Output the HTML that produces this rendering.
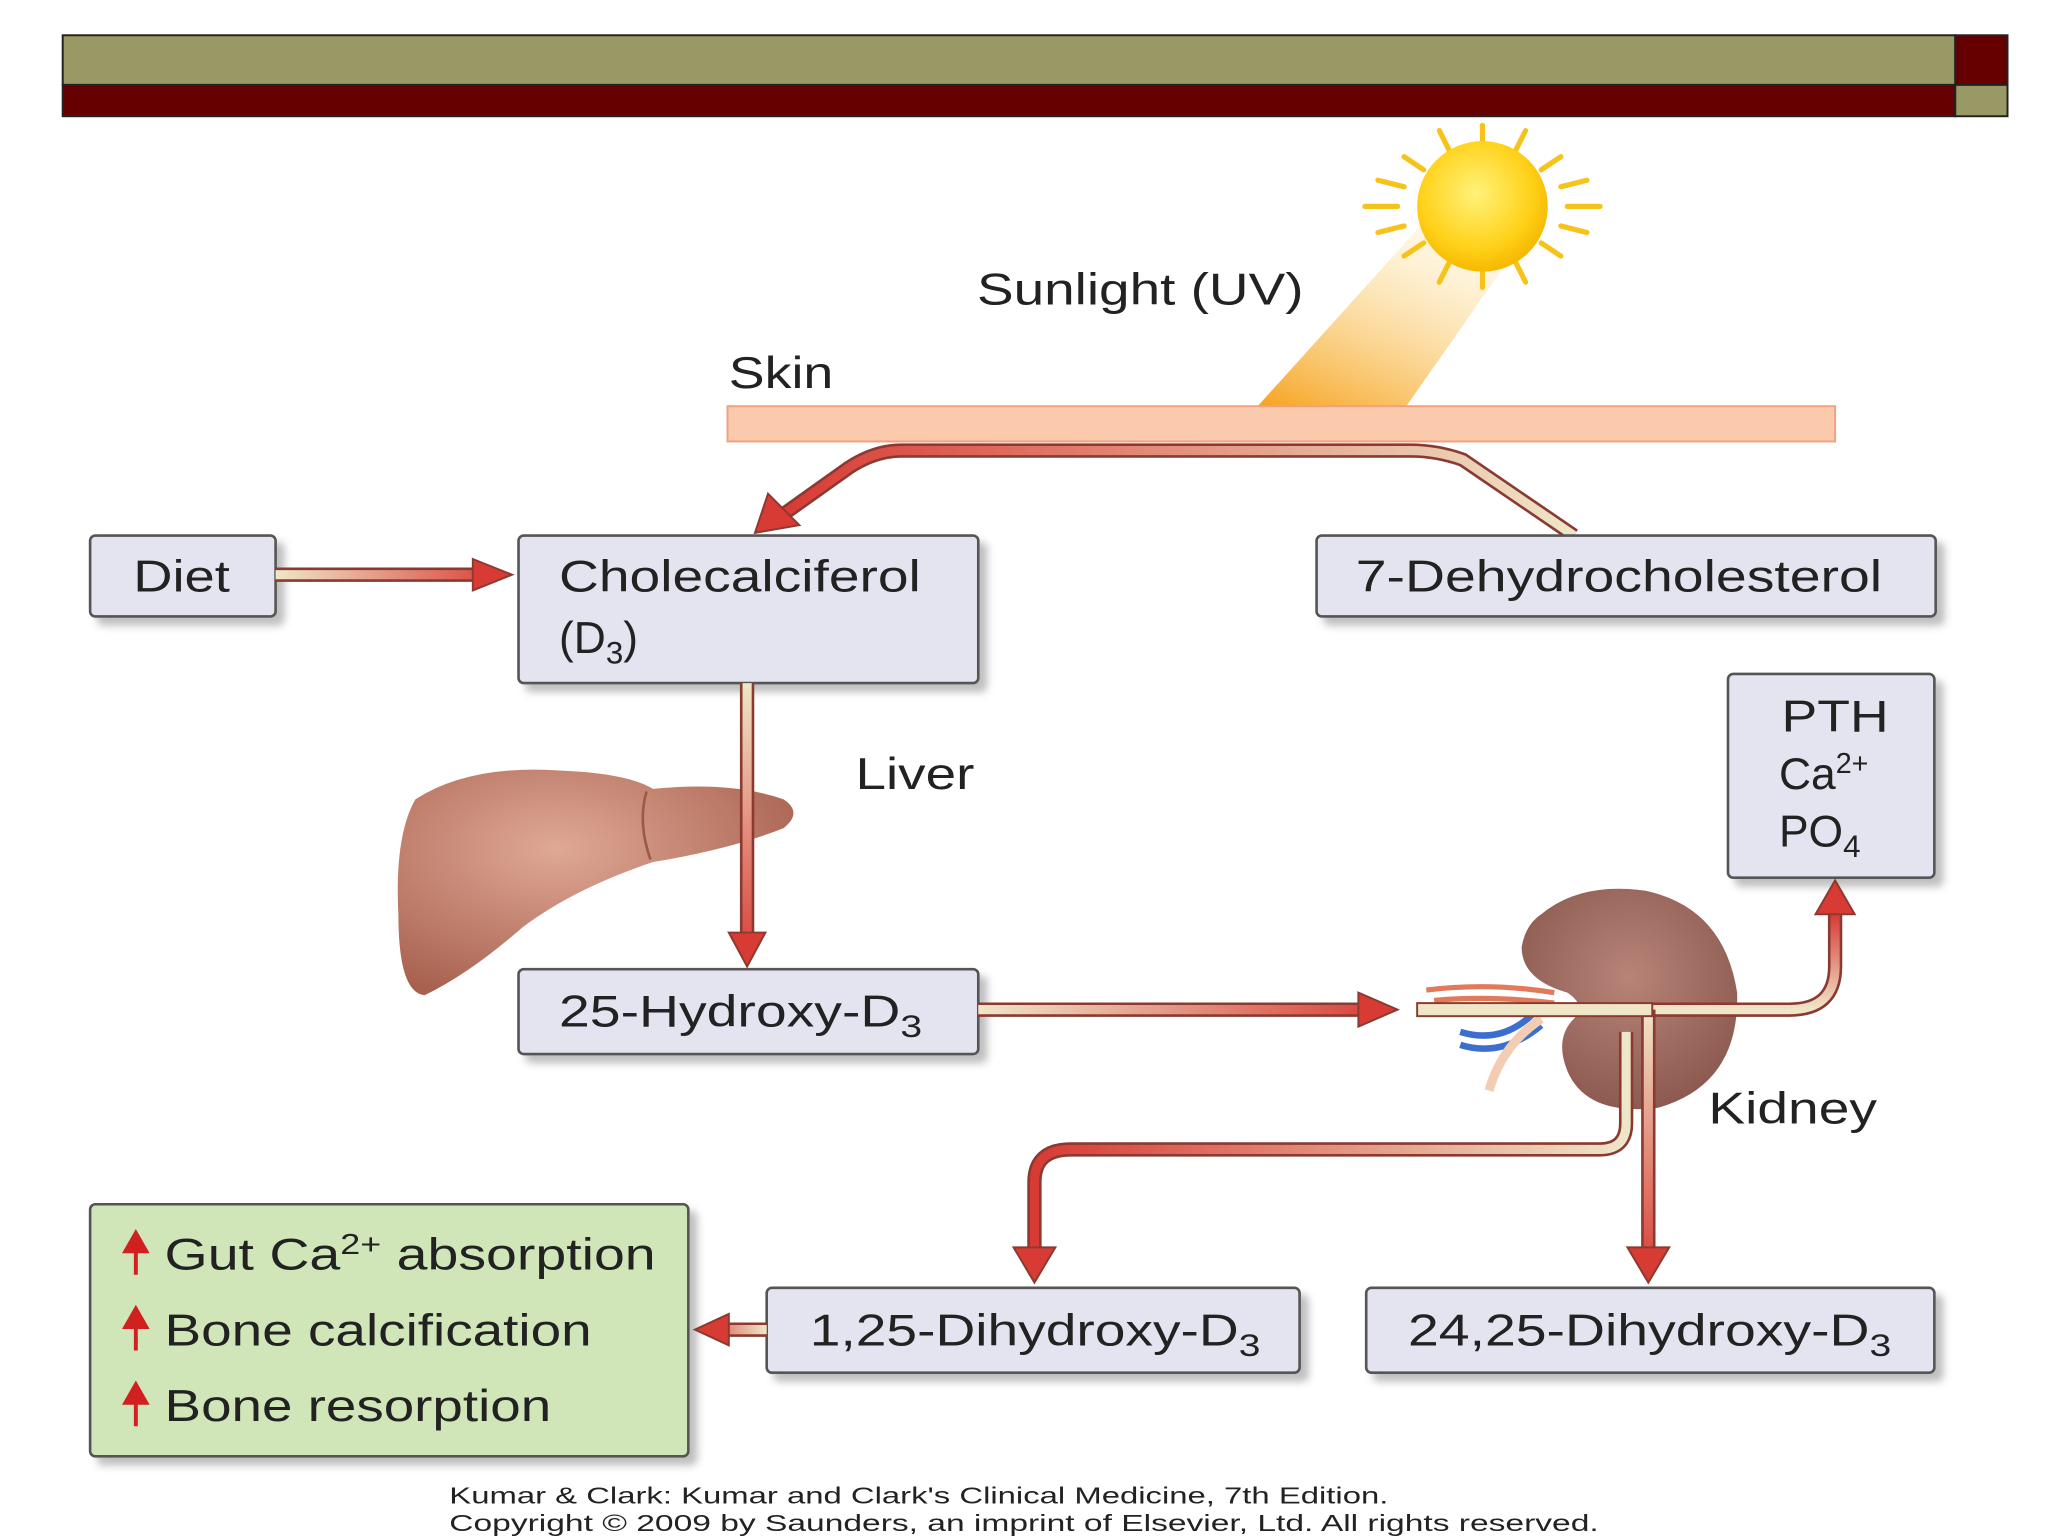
<!DOCTYPE html>
<html><head><meta charset="utf-8"><style>
html,body{margin:0;padding:0;background:#fff;}
svg{display:block;}
text{font-family:"Liberation Sans",sans-serif;fill:#222;}
</style></head><body>
<svg width="2048" height="1536" viewBox="0 0 1568 1176" xmlns="http://www.w3.org/2000/svg">
<defs>
<radialGradient id="sun" cx="0.45" cy="0.4" r="0.6"><stop offset="0" stop-color="#fff27a"/><stop offset="0.7" stop-color="#ffd21a"/><stop offset="1" stop-color="#f7b800"/></radialGradient>
<linearGradient id="beam" x1="0" y1="1" x2="0.6" y2="0"><stop offset="0" stop-color="#f6a21e"/><stop offset="1" stop-color="#fde9b0" stop-opacity="0.3"/></linearGradient>
<linearGradient id="ghr" x1="1" y1="0" x2="0" y2="0"><stop offset="0" stop-color="#efe6c8"/><stop offset="1" stop-color="#d83a34"/></linearGradient>
<linearGradient id="gv" x1="0" y1="0" x2="0" y2="1"><stop offset="0" stop-color="#efe6c8"/><stop offset="1" stop-color="#d83a34"/></linearGradient>
<linearGradient id="gvu" x1="0" y1="1" x2="0" y2="0"><stop offset="0" stop-color="#efe6c8"/><stop offset="1" stop-color="#d83a34"/></linearGradient>
<linearGradient id="gDiet" gradientUnits="userSpaceOnUse" x1="211" y1="0" x2="390" y2="0"><stop offset="0" stop-color="#efe6c8"/><stop offset="1" stop-color="#d83a34"/></linearGradient>
<linearGradient id="gChole" gradientUnits="userSpaceOnUse" x1="0" y1="523" x2="0" y2="740"><stop offset="0" stop-color="#efe6c8"/><stop offset="1" stop-color="#d83a34"/></linearGradient>
<linearGradient id="g25" gradientUnits="userSpaceOnUse" x1="749" y1="0" x2="1070" y2="0"><stop offset="0" stop-color="#efe6c8"/><stop offset="1" stop-color="#d83a34"/></linearGradient>
<linearGradient id="g125" gradientUnits="userSpaceOnUse" x1="587" y1="0" x2="532" y2="0"><stop offset="0" stop-color="#efe6c8"/><stop offset="1" stop-color="#d83a34"/></linearGradient>
<linearGradient id="g2425" gradientUnits="userSpaceOnUse" x1="0" y1="773" x2="0" y2="980"><stop offset="0" stop-color="#efe6c8"/><stop offset="1" stop-color="#d83a34"/></linearGradient>
<radialGradient id="liv" cx="0.4" cy="0.35" r="0.7"><stop offset="0" stop-color="#e0a896"/><stop offset="1" stop-color="#a8614f"/></radialGradient>
<radialGradient id="kid" cx="0.5" cy="0.4" r="0.6"><stop offset="0" stop-color="#b88479"/><stop offset="1" stop-color="#8c5a50"/></radialGradient>
<filter id="sh" x="-10%" y="-10%" width="130%" height="140%"><feDropShadow dx="6" dy="6" stdDeviation="3" flood-color="#000" flood-opacity="0.25"/></filter>
</defs>

<rect x="48" y="27" width="1449" height="38" fill="#999966" stroke="#222" stroke-width="1.5"/>
<rect x="48" y="65" width="1449" height="24" fill="#660000" stroke="#222" stroke-width="1.5"/>
<rect x="1497" y="27" width="40" height="38" fill="#660000" stroke="#222" stroke-width="1.5"/>
<rect x="1497" y="65" width="40" height="24" fill="#999966" stroke="#222" stroke-width="1.5"/>

<polygon points="962,312 1076,312 1160,192 1092,168" fill="url(#beam)"/>
<g stroke="#f7c21a" stroke-width="4" stroke-linecap="round">
<line x1="1135" y1="96" x2="1135" y2="112"/><line x1="1135" y1="204" x2="1135" y2="220"/>
<line x1="1045" y1="158" x2="1070" y2="158"/><line x1="1200" y1="158" x2="1225" y2="158"/>
<line x1="1102" y1="100" x2="1110" y2="116"/><line x1="1168" y1="100" x2="1160" y2="116"/>
<line x1="1102" y1="216" x2="1110" y2="200"/><line x1="1168" y1="216" x2="1160" y2="200"/>
<line x1="1075" y1="120" x2="1090" y2="130"/><line x1="1195" y1="120" x2="1180" y2="130"/>
<line x1="1075" y1="196" x2="1090" y2="186"/><line x1="1195" y1="196" x2="1180" y2="186"/>
<line x1="1055" y1="138" x2="1075" y2="143"/><line x1="1215" y1="138" x2="1195" y2="143"/>
<line x1="1055" y1="178" x2="1075" y2="173"/><line x1="1215" y1="178" x2="1195" y2="173"/>
</g>
<circle cx="1135" cy="158" r="50" fill="url(#sun)"/>

<text x="748" y="233" font-size="34" textLength="250" lengthAdjust="spacingAndGlyphs">Sunlight (UV)</text>
<text x="558" y="297" font-size="34" textLength="80" lengthAdjust="spacingAndGlyphs">Skin</text>
<rect x="557" y="311" width="848" height="27" fill="#fbc9ab" stroke="#f3a07e" stroke-width="1.5"/>

<path d="M1205,410 L1120,352 Q1100,345 1080,345 L690,345 Q670,345 650,358 L598,395" fill="none" stroke="#8a3a30" stroke-width="11"/>
<path d="M1205,410 L1120,352 Q1100,345 1080,345 L690,345 Q670,345 650,358 L598,395" fill="none" stroke="url(#ghr)" stroke-width="7"/>
<polygon points="578,408 588,378 612,402" fill="#d83a34" stroke="#8a3a30" stroke-width="1.5"/>

<g filter="url(#sh)" fill="#e4e4f0" stroke="#555" stroke-width="2">
<rect x="69" y="410" width="142" height="62" rx="4"/>
<rect x="397" y="410" width="352" height="113" rx="4"/>
<rect x="1008" y="410" width="474" height="62" rx="4"/>
<rect x="1323" y="516" width="158" height="156" rx="4"/>
<rect x="397" y="742" width="352" height="65" rx="4"/>
<rect x="587" y="986" width="408" height="65" rx="4"/>
<rect x="1046" y="986" width="435" height="65" rx="4"/>
<rect x="69" y="922" width="458" height="193" rx="4" fill="#d0e6b9"/>
</g>

<text x="102" y="453" font-size="34" textLength="74" lengthAdjust="spacingAndGlyphs">Diet</text>
<text x="428" y="453" font-size="34" textLength="277" lengthAdjust="spacingAndGlyphs">Cholecalciferol</text>
<text x="428" y="500" font-size="34">(D<tspan font-size="24" dy="8">3</tspan><tspan dy="-8">)</tspan></text>
<text x="1038" y="453" font-size="34" textLength="403" lengthAdjust="spacingAndGlyphs">7-Dehydrocholesterol</text>
<text x="1364" y="560" font-size="34" textLength="82" lengthAdjust="spacingAndGlyphs">PTH</text>
<text x="1362" y="604" font-size="34">Ca<tspan font-size="22" dy="-12">2+</tspan></text>
<text x="1362" y="648" font-size="34">PO<tspan font-size="24" dy="8">4</tspan></text>
<text x="428" y="786" font-size="34" textLength="278" lengthAdjust="spacingAndGlyphs">25-Hydroxy-D<tspan font-size="24" dy="8">3</tspan></text>
<text x="620" y="1030" font-size="34" textLength="345" lengthAdjust="spacingAndGlyphs">1,25-Dihydroxy-D<tspan font-size="24" dy="8">3</tspan></text>
<text x="1078" y="1030" font-size="34" textLength="370" lengthAdjust="spacingAndGlyphs">24,25-Dihydroxy-D<tspan font-size="24" dy="8">3</tspan></text>
<text x="655" y="604" font-size="34" textLength="91" lengthAdjust="spacingAndGlyphs">Liver</text>
<text x="1308" y="860" font-size="34" textLength="129" lengthAdjust="spacingAndGlyphs">Kidney</text>

<text x="126" y="972" font-size="34" textLength="376" lengthAdjust="spacingAndGlyphs">Gut Ca<tspan font-size="22" dy="-12">2+</tspan><tspan dy="12"> absorption</tspan></text>
<text x="126" y="1030" font-size="34" textLength="327" lengthAdjust="spacingAndGlyphs">Bone calcification</text>
<text x="126" y="1088" font-size="34" textLength="296" lengthAdjust="spacingAndGlyphs">Bone resorption</text>
<g fill="#d02020" stroke="#d02020" stroke-width="3">
<line x1="104" y1="976" x2="104" y2="955"/><polygon points="96,958 104,944 112,958"/>
<line x1="104" y1="1034" x2="104" y2="1013"/><polygon points="96,1016 104,1002 112,1016"/>
<line x1="104" y1="1092" x2="104" y2="1071"/><polygon points="96,1074 104,1060 112,1074"/>
</g>

<path d="M318,612 Q360,585 430,590 Q480,592 500,604 Q560,598 600,612 Q615,622 600,634 Q560,650 500,660 Q440,680 400,710 Q360,745 325,762 Q305,760 305,700 Q302,640 318,612 Z" fill="url(#liv)"/>
<path d="M495,606 Q488,630 498,658" fill="none" stroke="#9a5a48" stroke-width="2"/>

<path d="M1180,700 Q1210,675 1260,682 Q1320,695 1330,760 Q1332,830 1270,848 Q1215,855 1200,820 Q1190,795 1205,780 Q1215,770 1200,760 Q1165,750 1165,725 Q1168,708 1180,700 Z" fill="url(#kid)"/>
<path d="M1118,790 Q1150,800 1175,775 M1118,800 Q1150,810 1180,785" fill="none" stroke="#3a6fcf" stroke-width="5"/>
<path d="M1092,758 Q1140,752 1190,760 M1098,766 Q1140,762 1190,768" fill="none" stroke="#e07a5a" stroke-width="4"/>
<path d="M1180,780 Q1150,800 1140,835" fill="none" stroke="#f3cdb3" stroke-width="7"/>

<line x1="211" y1="440" x2="370" y2="440" stroke="#8a3a30" stroke-width="11"/>
<line x1="211" y1="440" x2="370" y2="440" stroke="url(#gDiet)" stroke-width="7"/>
<polygon points="392,440 362,428 362,452" fill="#d83a34" stroke="#8a3a30" stroke-width="1.5"/>

<line x1="572" y1="523" x2="572" y2="718" stroke="#8a3a30" stroke-width="11"/>
<line x1="572" y1="523" x2="572" y2="718" stroke="url(#gChole)" stroke-width="7"/>
<polygon points="572,740 558,714 586,714" fill="#d83a34" stroke="#8a3a30" stroke-width="1.5"/>

<line x1="749" y1="773" x2="1045" y2="773" stroke="#8a3a30" stroke-width="11"/>
<line x1="749" y1="773" x2="1045" y2="773" stroke="url(#g25)" stroke-width="7"/>
<polygon points="1070,773 1040,760 1040,786" fill="#d83a34" stroke="#8a3a30" stroke-width="1.5"/>

<g fill="none">
<path d="M1085,773 L1370,773 Q1405,773 1405,740 L1405,700" stroke="#8a3a30" stroke-width="11"/>
<path d="M1085,773 L1370,773 Q1405,773 1405,740 L1405,700" stroke="url(#gvu)" stroke-width="7"/>
<path d="M1262,773 L1262,955" stroke="#8a3a30" stroke-width="11"/>
<path d="M1262,773 L1262,955" stroke="url(#g2425)" stroke-width="7"/>
<path d="M1245,790 L1245,860 Q1245,880 1225,880 L820,880 Q792,880 792,905 L792,955" stroke="#8a3a30" stroke-width="11"/>
<path d="M1245,790 L1245,860 Q1245,880 1225,880 L820,880 Q792,880 792,905 L792,955" stroke="url(#ghr)" stroke-width="7"/>
</g>
<rect x="1085" y="768" width="180" height="10" fill="#efe6c8" stroke="#8a3a30" stroke-width="1.5"/>
<polygon points="1405,674 1390,700 1420,700" fill="#d83a34" stroke="#8a3a30" stroke-width="1.5"/>
<polygon points="1262,982 1246,955 1278,955" fill="#d83a34" stroke="#8a3a30" stroke-width="1.5"/>
<polygon points="792,982 776,955 808,955" fill="#d83a34" stroke="#8a3a30" stroke-width="1.5"/>

<line x1="587" y1="1018" x2="555" y2="1018" stroke="#8a3a30" stroke-width="11"/>
<line x1="587" y1="1018" x2="555" y2="1018" stroke="url(#g125)" stroke-width="7"/>
<polygon points="532,1018 558,1006 558,1030" fill="#d83a34" stroke="#8a3a30" stroke-width="1.5"/>

<text x="344" y="1151" font-size="18" textLength="719" lengthAdjust="spacingAndGlyphs">Kumar &amp; Clark: Kumar and Clark's Clinical Medicine, 7th Edition.</text>
<text x="344" y="1172" font-size="18" textLength="880" lengthAdjust="spacingAndGlyphs">Copyright © 2009 by Saunders, an imprint of Elsevier, Ltd. All rights reserved.</text>
</svg>
</body></html>
